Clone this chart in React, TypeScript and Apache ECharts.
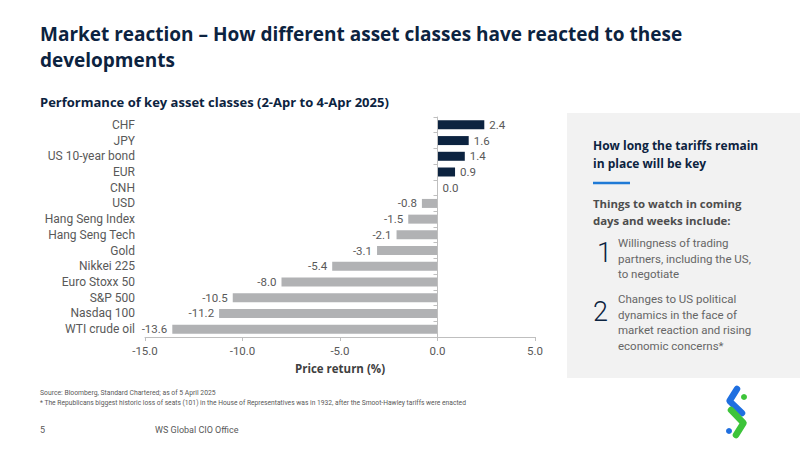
import React, { useEffect, useRef } from "react";
import * as echarts from "echarts";

const categories = [
  "CHF", "JPY", "US 10-year bond", "EUR", "CNH", "USD", "Hang Seng Index",
  "Hang Seng Tech", "Gold", "Nikkei 225", "Euro Stoxx 50", "S&P 500", "Nasdaq 100", "WTI crude oil",
];
const values = [2.4, 1.6, 1.4, 0.9, 0.0, -0.8, -1.5, -2.1, -3.1, -5.4, -8.0, -10.5, -11.2, -13.6];
const xTicks = { min: -15, max: 5, interval: 5 };

const titleLines = ["Market reaction \u2013 How different asset classes have reacted to these", "developments"];
const subtitle = "Performance of key asset classes (2-Apr to 4-Apr 2025)";
const xName = "Price return (%)";
const panelHead = ["How long the tariffs remain", "in place will be key"];
const panelSub = ["Things to watch in coming", "days and weeks include:"];
const item1 = ["Willingness of trading", "partners, including the US,", "to negotiate"];
const item2 = ["Changes to US political", "dynamics in the face of", "market reaction and rising", "economic concerns*"];
const source = "Source: Bloomberg, Standard Chartered; as of 5 April 2025";
const note = "* The Republicans biggest historic loss of seats (101) in the House of Representatives was in 1932, after the Smoot-Hawley tariffs were enacted";

const NAVY = "#0c2340";
const GRAY_BAR = "#b1b2b4";
const TXT = "#595959";
const F = "Roboto, 'Open Sans', sans-serif";
const FO = "'Open Sans', Roboto, sans-serif";

export default function App() {
  const ref = useRef<HTMLDivElement>(null);
  useEffect(() => {
    if (!ref.current) return;
    const chart = echarts.init(ref.current, null, { renderer: "svg" });
    const data = values.map((v) => ({
      value: v,
      itemStyle: { color: v > 0 ? NAVY : GRAY_BAR },
      label: { position: v < 0 ? "left" : "right" },
    }));
    const text = (x: number, y: number, t: string, font: string, fill: string, align = "left") => ({
      type: "text",
      x,
      y,
      style: { text: t, font, fill, textAlign: align, textVerticalAlign: "middle" },
    });
    const block = (x: number, y: number, lines: string[], font: string, fill: string, lh: number) => ({
      type: "text",
      x,
      y: y - lh / 2,
      style: { text: lines.join("\n"), font, fill, lineHeight: lh, textAlign: "left", textVerticalAlign: "top" },
    });
    const graphics: any[] = [
      text(40, 34, titleLines[0], `bold 19px ${FO}`, NAVY),
      text(40, 60, titleLines[1], `bold 19px ${FO}`, NAVY),
      text(40, 102, subtitle, `bold 13px ${FO}`, NAVY),
      { type: "rect", shape: { x: 567, y: 113, width: 233, height: 265 }, style: { fill: "#f2f2f2" }, z: -1 },
      block(593, 145, panelHead, `bold 12px ${FO}`, NAVY, 18),
      { type: "line", shape: { x1: 593, y1: 183, x2: 630, y2: 183 }, style: { stroke: "#1f7ad6", lineWidth: 2.5 } },
      block(593, 203, panelSub, `bold 11.4px ${FO}`, "#4d4d4d", 17),
      text(597, 253, "1", `300 27px ${F}`, NAVY),
      text(593, 312, "2", `300 27px ${F}`, NAVY),
      block(618, 243, item1, `11.5px ${F}`, "#666666", 15.5),
      block(618, 299, item2, `11.5px ${F}`, "#666666", 15.7),
      text(40, 393, source, `6.8px ${F}`, TXT),
      text(40, 403, note, `6.7px ${F}`, TXT),
      text(40, 430, "5", `9px ${F}`, TXT),
      text(155, 430, "WS Global CIO Office", `9px ${F}`, TXT),
      // logo
      { type: "polyline", shape: { points: [[737, 389], [729.5, 401], [742, 413]] }, style: { stroke: "#1f6fe0", lineWidth: 6.5, lineCap: "round", lineJoin: "round", fill: null } },
      { type: "circle", shape: { cx: 744, cy: 397, r: 3 }, style: { fill: "#3dc43a" } },
      { type: "polyline", shape: { points: [[731, 410], [743.5, 423], [736, 435]] }, style: { stroke: "#3dc43a", lineWidth: 6.5, lineCap: "round", lineJoin: "round", fill: null } },
      { type: "circle", shape: { cx: 729, cy: 431, r: 3 }, style: { fill: "#1f6fe0" } },
    ];
    chart.setOption({
      animation: false,
      grid: { left: 145, right: 265, top: 117, bottom: 113, containLabel: false },
      xAxis: {
        type: "value",
        min: xTicks.min,
        max: xTicks.max,
        interval: xTicks.interval,
        splitLine: { show: false },
        axisLine: { show: true, onZero: false, lineStyle: { color: "#bfbfbf" } },
        axisTick: { show: true, length: 4, lineStyle: { color: "#bfbfbf" } },
        axisLabel: { color: TXT, fontSize: 11.5, fontFamily: F, margin: 8, formatter: (v: number) => v.toFixed(1) },
        name: xName,
        nameLocation: "middle",
        nameGap: 25,
        nameTextStyle: { color: "#404040", fontSize: 11.5, fontWeight: "bold", fontFamily: FO },
      },
      yAxis: [
        {
          type: "category",
          data: categories,
          inverse: true,
          axisLine: { show: false, onZero: false },
          axisTick: { show: false },
          axisLabel: { color: TXT, fontSize: 12, fontFamily: F, margin: 10 },
        },
        {
          type: "category",
          data: categories,
          inverse: true,
          position: "left",
          axisLine: { show: true, onZero: true, onZeroAxisIndex: 0, lineStyle: { color: "#bfbfbf" } },
          axisTick: { show: true, length: 4, lineStyle: { color: "#bfbfbf" } },
          axisLabel: { show: false },
          z: 5,
        },
      ],
      series: [
        {
          type: "bar",
          data,
          yAxisIndex: 0,
          barWidth: 9,
          label: {
            show: true,
            color: TXT,
            fontSize: 11.5,
            fontFamily: F,
            distance: 5,
            formatter: (p: any) => Number(p.value).toFixed(1),
          },
        },
      ],
      graphic: graphics,
    });
    return () => chart.dispose();
  }, []);
  return <div ref={ref} style={{ position: "fixed", left: 0, top: 0, width: 800, height: 450, background: "#fff" }} />;
}
